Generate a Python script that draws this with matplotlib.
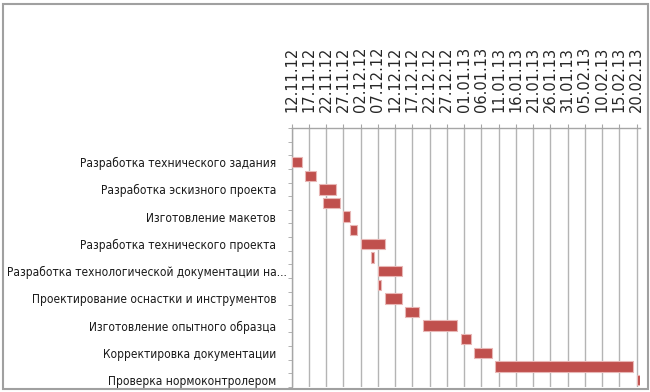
import matplotlib
matplotlib.use('Agg')
import matplotlib.pyplot as plt
import matplotlib.dates as mdates
from matplotlib import font_manager
from matplotlib.patches import Rectangle
from matplotlib.transforms import ScaledTranslation
import pandas as pd
import numpy as np

# tasks top to bottom (only every other name is shown on the chart)
tasks = ['', '',
         'Разработка технического задания', '',
         'Разработка эскизного проекта', '',
         'Изготовление макетов', '',
         'Разработка технического проекта', '',
         'Разработка технологической документации на...', '',
         'Проектирование оснастки и инструментов', '',
         'Изготовление опытного образца', '',
         'Корректировка документации', '',
         'Проверка нормоконтролером']
starts = [None, None,
          '2012-11-12', '2012-11-16', '2012-11-20', '2012-11-21',
          '2012-11-27', '2012-11-29', '2012-12-02', '2012-12-05',
          '2012-12-07', '2012-12-07', '2012-12-09', '2012-12-15',
          '2012-12-20', '2012-12-31', '2013-01-04', '2013-01-10',
          '2013-02-20']
durations = [0, 0, 3, 3, 5, 5, 2, 2, 7, 1, 7, 1, 5, 4, 10, 3, 5, 40, 1]

date_ticks = pd.date_range('2012-11-12', '2013-02-20', freq='5D')

# pick a narrow font for the task names (Calibri-like look)
fonts = font_manager.fontManager.ttflist
names = {f.name for f in fonts}
if 'Liberation Sans Narrow' in names:
    lab_font = dict(family='Liberation Sans Narrow', fontsize=10.8)
elif any(f.name == 'DejaVu Sans' and f.stretch == 'condensed' for f in fonts):
    lab_font = dict(family='DejaVu Sans', fontstretch='condensed', fontsize=8.6)
else:
    lab_font = dict(family='Liberation Sans', fontsize=8.8)

fig = plt.figure(figsize=(6.5, 3.92), dpi=100)
ax = fig.add_axes([291.5 / 650, 1 - 387 / 392, (640 - 291.5) / 650, (387 - 128) / 392])

rows = np.arange(len(tasks))
for r, s, d in zip(rows, starts, durations):
    if s is None:
        continue
    ax.barh(r, d, left=mdates.date2num(pd.Timestamp(s)), height=0.76,
            color='#c0504d', edgecolor='#e8b7b6', linewidth=0.8, zorder=3)

x0 = mdates.date2num(date_ticks[0])
ax.set_xlim(x0, x0 + 101)
ax.set_ylim(len(tasks) - 0.5, -0.5)

ax.xaxis.tick_top()
ax.set_xticks(mdates.date2num(date_ticks))
ax.set_xticklabels([d.strftime('%d.%m.%y') for d in date_ticks], rotation=90,
                   fontsize=10.5, color='#262626')
ax.tick_params(axis='x', which='major', length=3, color='#a6a6a6', pad=8.5)
ax.grid(axis='x', color='#b4b4b4', linewidth=1, zorder=0)

ax.set_yticks(rows)
ax.set_yticklabels(tasks, color='#1a1a1a', **lab_font)
ax.set_yticks(np.arange(len(tasks) + 1) - 0.5, minor=True)
ax.tick_params(axis='y', which='major', length=0, pad=11)
ax.tick_params(axis='y', which='minor', length=3, color='#a6a6a6')

# the truncated long name sits right against the axis, as in the original
for lbl in ax.get_yticklabels():
    if lbl.get_text().endswith('...'):
        lbl.set_transform(lbl.get_transform() + ScaledTranslation(8 / 72, 0, fig.dpi_scale_trans))

for side in ['right', 'bottom']:
    ax.spines[side].set_visible(False)
for side in ['left', 'top']:
    ax.spines[side].set_color('#a6a6a6')
    ax.spines[side].set_linewidth(1)

# outer frame
fig.patches.append(Rectangle((2.5 / 650, 3.5 / 392), 645 / 650, 385 / 392,
                             transform=fig.transFigure, fill=False,
                             edgecolor='#a0a0a0', linewidth=1.5))

fig.savefig('out.png', dpi=100)
